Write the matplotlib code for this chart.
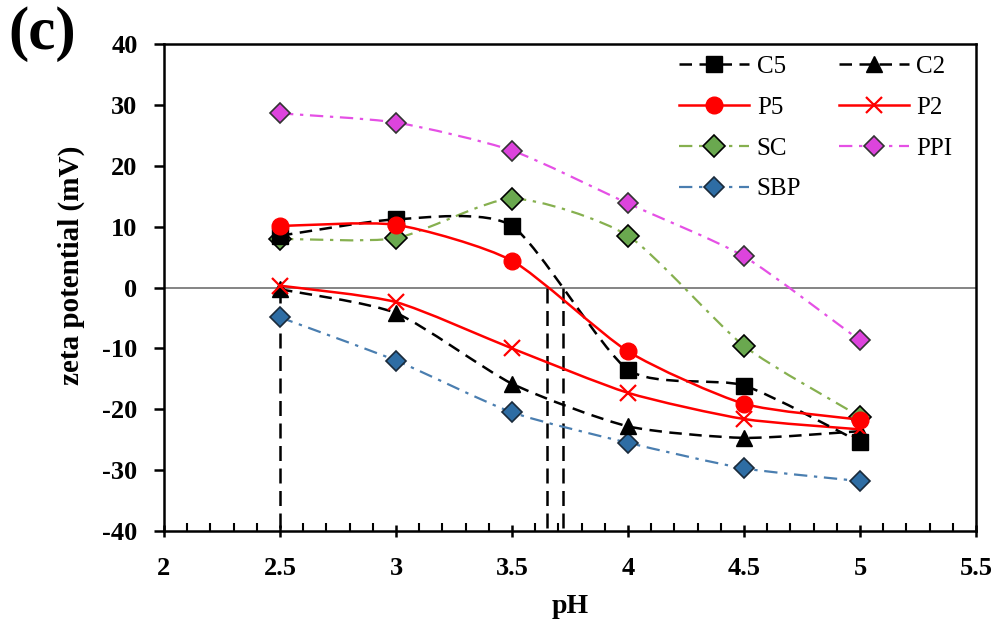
import numpy as np
import matplotlib
matplotlib.use("Agg")
import matplotlib.pyplot as plt
from matplotlib.path import Path
from matplotlib.patches import PathPatch
from matplotlib.lines import Line2D

plt.rcParams['font.family'] = ['Liberation Serif', 'DejaVu Serif']
plt.rcParams['axes.unicode_minus'] = False

ph = [2.5, 3.0, 3.5, 4.0, 4.5, 5.0]
C5 = [8.5, 11.2, 10.1, -13.5, -16.1, -25.4]
C2 = [-0.3, -4.2, -15.8, -22.8, -24.7, -23.6]
P5 = [10.1, 10.3, 4.4, -10.5, -19.1, -21.7]
P2 = [0.3, -2.4, -10.0, -17.3, -21.6, -23.3]
SC = [8.0, 8.1, 14.6, 8.5, -9.6, -21.2]
PPI = [28.6, 27.1, 22.5, 13.8, 5.1, -8.7]
SBP = [-4.9, -12.0, -20.5, -25.5, -29.7, -31.8]
iep_lines = [2.5, 3.65, 3.72]

series = [
    ("C5", C5, dict(color='black', ls=(0, (5, 3)), lw=1.8), dict(marker='s', ms=11, mfc='black', mec='black')),
    ("C2", C2, dict(color='black', ls=(0, (5, 3)), lw=1.8), dict(marker='^', ms=11, mfc='black', mec='black')),
    ("P5", P5, dict(color='#ff0000', ls='-', lw=1.8), dict(marker='o', ms=12, mfc='#ff0000', mec='#ff0000')),
    ("P2", P2, dict(color='#ff0000', ls='-', lw=1.8), dict(marker='x', ms=12, mfc='#ff0000', mec='#ff0000', mew=1.6)),
    ("SC", SC, dict(color='#86b04f', ls=(0, (6, 3, 1.5, 3)), lw=1.6), dict(marker='D', ms=11, mfc='#6aa84f', mec='black', mew=1.2)),
    ("PPI", PPI, dict(color='#e550e5', ls=(0, (6, 3, 1.5, 3)), lw=1.6), dict(marker='D', ms=10, mfc='#dd44dd', mec='#333333', mew=1.2)),
    ("SBP", SBP, dict(color='#4a7eb0', ls=(0, (6, 3, 1.5, 3)), lw=1.6), dict(marker='D', ms=10, mfc='#2e6da4', mec='#1a2a3a', mew=1.2)),
]
legend_order = ["C5", "P5", "SC", "SBP", "C2", "P2", "PPI"]


def smooth_path(x, y, t=0.11):
    x = np.asarray(x, float); y = np.asarray(y, float)
    pts = np.column_stack([x, y])
    n = len(pts)
    verts = [pts[0]]
    codes = [Path.MOVETO]
    for i in range(n - 1):
        p0 = pts[i - 1] if i > 0 else pts[i]
        p1 = pts[i]
        p2 = pts[i + 1]
        p3 = pts[i + 2] if i + 2 < n else pts[i + 1]
        c1 = p1 + (p2 - p0) * t
        c2 = p2 - (p3 - p1) * t
        verts += [c1, c2, p2]
        codes += [Path.CURVE4] * 3
    return Path(verts, codes)


fig = plt.figure(figsize=(10, 6.24), dpi=100)
ax = fig.add_axes([0.164, 0.149, 0.812, 0.7805])
ax.set_xlim(2, 5.5)
ax.set_ylim(-40, 40)

ax.axhline(0, color='#707070', lw=1.2, zorder=1)

for xv in iep_lines:
    ax.plot([xv, xv], [0, -40], color='black', ls=(0, (6, 3)), lw=1.8, zorder=1)

hmap = {}
zorder_list = ["SBP", "PPI", "SC", "C2", "P2", "C5", "P5"]
zmap = {name: 3 + i for i, name in enumerate(zorder_list)}
for name, vals, lkw, mkw in series:
    patch = PathPatch(smooth_path(ph, vals), fill=False, edgecolor=lkw['color'],
                      linestyle=lkw['ls'], lw=lkw['lw'], zorder=zmap[name])
    ax.add_patch(patch)
    ax.plot(ph, vals, ls='none', zorder=zmap[name] + 0.5, **mkw)
    hmap[name] = Line2D([], [], color=lkw['color'], ls=lkw['ls'], lw=lkw['lw'], label=name, **mkw)
handles = [hmap[n] for n in legend_order]

ax.set_xticks([2, 2.5, 3, 3.5, 4, 4.5, 5, 5.5])
ax.set_xticklabels(['2', '2.5', '3', '3.5', '4', '4.5', '5', '5.5'])
ax.set_xticks(np.arange(2, 5.5001, 0.1), minor=True)
ax.set_yticks(np.arange(-40, 41, 10))
ax.tick_params(axis='x', which='major', direction='inout', length=9, width=1.8, labelsize=19, pad=14)
ax.tick_params(axis='x', which='minor', direction='in', length=6, width=1.5)
ax.tick_params(axis='y', which='major', direction='out', length=7, width=1.8, labelsize=19, pad=12)
for lab in ax.get_xticklabels() + ax.get_yticklabels():
    lab.set_fontweight('bold')
for sp in ax.spines.values():
    sp.set_linewidth(1.8)

ax.set_xlabel('pH', fontsize=20, fontweight='bold', labelpad=10)
ax.set_ylabel('zeta potential (mV)', fontsize=21, fontweight='bold')
ax.yaxis.set_label_coords(-0.097, 0.545)

fig.text(0.008, 0.99, '(c)', fontsize=44, fontweight='bold', va='top', ha='left')

leg = ax.legend(handles=handles, ncol=2, loc='upper left', bbox_to_anchor=(0.613, 1.012),
                frameon=False, fontsize=18, handlelength=2.8, handletextpad=0.3,
                columnspacing=1.5, labelspacing=0.73, borderaxespad=0.3)

fig.savefig('out.png', dpi=100)
